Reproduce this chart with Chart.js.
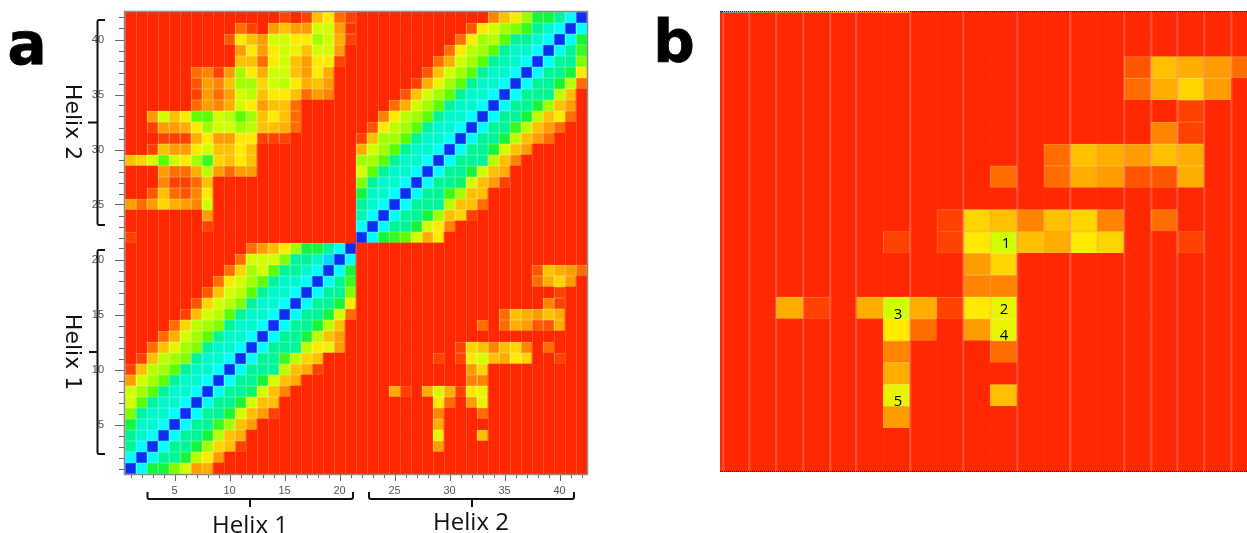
<!DOCTYPE html>
<html>
<head>
<meta charset="utf-8">
<script src="https://cdn.jsdelivr.net/npm/chart.js@4"></script>
<style>
html,body{margin:0;padding:0;background:#fff;width:1247px;height:533px;overflow:hidden}
canvas{display:block}
#wa{position:absolute;left:0;top:0;width:600px;height:533px}
#cb{position:absolute;left:720px;top:11px;width:527px;height:461px;overflow:hidden;background:#ff2800}
#wb{position:absolute;left:-24px;top:-20px;width:562px;height:481px}
#wa canvas,#wb canvas{filter:blur(.6px)}
#wb canvas{background:#ff2800}
#fb{position:absolute;left:720px;top:11px;width:527px;height:461px;border-top:1px dotted #222;border-bottom:1px dotted #222;box-sizing:border-box}
.t{position:absolute;white-space:nowrap;color:#000;line-height:1;transform:translate(-50%,-50%)}
.p{font:bold 58px "DejaVu Sans",sans-serif;-webkit-text-stroke:.8px #000}
.h{font:24px "Open Sans",sans-serif;color:#111}
.v{font:22px "DejaVu Sans",sans-serif;color:#111;transform:translate(-50%,-50%) rotate(90deg)}
.n{font:15px "Open Sans",sans-serif}
svg{position:absolute;left:0;top:0}
</style>
</head>
<body>
<div id="wa"><canvas id="ca" width="600" height="533"></canvas></div>
<div id="cb"><div id="wb"><canvas id="cbc" width="562" height="481"></canvas></div></div>
<div id="fb"></div>
<svg width="600" height="533" fill="none" stroke="#111" stroke-width="2">
<path d="M105 20H99Q97.500 20 97.500 22V223Q97.500 225 99 225H105M97.500 122.500H88"/>
<path d="M105 250H99Q97.500 250 97.500 252V452Q97.500 454 99 454H105M97.500 352H89"/>
<path d="M147.500 492V497Q147.500 499 149 499H351Q353 499 353 497V492M250 499V507"/>
<path d="M369 492V497Q369 499 371 499H572Q574 499 574 497V492M472 499V507"/>
</svg>
<div class="t p" style="left:27px;top:44px">a</div>
<div class="t p" style="left:674px;top:42px">b</div>
<div class="t h" style="left:250px;top:523px">Helix 1</div>
<div class="t h" style="left:471px;top:520px">Helix 2</div>
<div class="t v" style="left:73px;top:122px">Helix 2</div>
<div class="t v" style="left:73px;top:352px">Helix 1</div>
<div class="t n" style="left:1006px;top:242px">1</div>
<div class="t n" style="left:1004px;top:308px">2</div>
<div class="t n" style="left:898px;top:313px">3</div>
<div class="t n" style="left:1004px;top:334px">4</div>
<div class="t n" style="left:898px;top:400px">5</div>
<script>
// Contact level per residue pair: each row is one y residue, entries are x residues 1..42.
// 0 = no contact (red) ... 14 = diagonal (blue).
const r01=[14,12,9,9,7.5,6,3,3.5,0,0,0,0,0,0,0,0,0,0,0,0,0, 0,0,0,0,0,0,0,0,0,0,0,0,0,0,0,0,0,0,0,0,0];
const r02=[12,14,12,10,10,9,6.5,5,3,0,0,0,0,0,0,0,0,0,0,0,0, 0,0,0,0,0,0,0,0,0,0,0,0,0,0,0,0,0,0,0,0,0];
const r03=[10,12,14,12,10,10,9,7,4.5,4,1,0,0,0,0,0,0,0,0,0,0, 0,0,0,0,0,0,0,3,0,0,0,0,0,0,0,0,0,0,0,0,0];
const r04=[10,11,12,14,12,10,10,9,6.5,4,3.5,0,0,0,0,0,0,0,0,0,0, 0,0,0,0,0,0,0,5.5,0,0,0,4,0,0,0,0,0,0,0,0,0];
const r05=[9,11,11,12,14,12,10,10,8.5,7,4,3,0,0,0,0,0,0,0,0,0, 0,0,0,0,0,0,0,3.5,0,0,0,0,0,0,0,0,0,0,0,0,0];
const r06=[7.5,10,11,11,12,14,12,10,10,9,6,4,3,1,0,0,0,0,0,0,0, 0,0,0,0,0,0,0,2.5,0,0,0,2,0,0,0,0,0,0,0,0,0];
const r07=[6,8,10,11,11,12,14,12,10,10,9,6,4,4,0,0,0,0,0,0,0, 0,0,0,0,0,0,0,5,2,0,3,5.5,0,0,0,0,0,0,0,0,0];
const r08=[6,7,8,10,11,11,12,14,12,10,10,9.5,6,4,2.5,0,0,0,0,0,0, 0,0,0,3.5,1,0,3.5,6,3.5,1,5,5.5,0,0,0,0,0,0,0,0,0];
const r09=[3,6,7,8,10,11,11,12,14,12,10,10,9,6,4,3.5,0,0,0,0,0, 0,0,0,0,0,0,0,0,0,0,2.5,2.5,0,0,0,0,0,0,0,0,0];
const r10=[1,4,6.5,7,8,10,11,11,12,14,12,10,10,10,6.5,4,3.5,1,0,0,0, 0,0,0,0,0,0,0,0,0,0,3,4.5,0,0,0,0,0,0,0,0,0];
const r11=[0,1,4,6.5,7,7.5,10,11,11,12,14,12,10,10,8.5,6.5,4.5,4,0,0,0, 0,0,0,0,0,0,0,1,0,1,5,6,4,3.5,5,4.5,0,0,1,0,0];
const r12=[0,0,2,4,5.5,7,7.5,10,11,11,12,14,12,10,10,10,6.5,5,5.5,3,0, 0,0,0,0,0,0,0,0,0,1,4.5,4,2.5,4,4.5,2.5,0,2,0,0,0];
const r13=[0,0,0,2,3.5,6,7,8,10,11,11,12,14,12,10,10,9,6.5,4,3,0, 0,0,0,0,0,0,0,0,0,0,0,0,0,0,0,0,0,0,0,0,0];
const r14=[0,0,0,0,2,4.5,6.5,7,7.5,10,11,11,12,14,12,10,10,9,6.5,4,0, 0,0,0,0,0,0,0,0,0,0,0,2,0,2,3.5,3,1.5,1.5,3.5,0,0];
const r15=[0,0,0,0,0,1,4,6,6.5,8,10,11,11,12,14,12,10,10,9,6,2, 0,0,0,0,0,0,0,0,0,0,0,0,0,2,4,3.5,3,4,3.5,0,0];
const r16=[0,0,0,0,0,0,1.5,4.5,6,6.5,7.5,10,11,11,12,14,12,10,10,9,5, 0,0,0,0,0,0,0,0,0,0,0,0,0,0,0,0,0,2.5,1,0,0];
const r17=[0,0,0,0,0,0,0,1.5,4,6,6.5,8,10,11,11,12,14,12,10,10,7.5, 0,0,0,0,0,0,0,0,0,0,0,0,0,0,0,0,0,0,1,0,0];
const r18=[0,0,0,0,0,0,0,0,2,5,6,7,8,10,11,11,12,14,12,10,8.5, 0,0,0,0,0,0,0,0,0,0,0,0,0,0,0,0,2,3.5,4.5,3,0];
const r19=[0,0,0,0,0,0,0,0,0,2,4.5,7,6,8,10,10,11,12,14,12,9, 0,0,0,0,0,0,0,0,0,0,0,0,0,0,0,0,1.5,4,3.5,3,2];
const r20=[0,0,0,0,0,0,0,0,0,0,2,6,6,6,7.5,10,10,11,13,14,12, 0,0,0,0,0,0,0,0,0,0,0,0,0,0,0,0,0,0,0,0,0];
const r21=[0,0,0,0,0,0,0,0,0,0,0,2,3,4,5,7,9,9,10,12,14, 0,0,0,0,0,0,0,0,0,0,0,0,0,0,0,0,0,0,0,0,0];
const r22=[1,0,0,0,0,0,0,0,0,0,0,0,0,0,0,0,0,0,0,0,0, 14,12,9,8.5,8,6,3.5,5,0,0,0,0,0,0,0,0,0,0,0,0,0];
const r23=[0,0,0,0,0,0,0,1,0,0,0,0,0,0,0,0,0,0,0,0,0, 12,14,12,10,10,9,6,5,2.5,0,0,0,0,0,0,0,0,0,0,0,0];
const r24=[0,0,0,0,0,0,0,3,0,0,0,0,0,0,0,0,0,0,0,0,0, 10.5,12,14,12,10,10,9,7,4,4.5,1,0,0,0,0,0,0,0,0,0,0];
const r25=[3,2,3,4.5,3.5,3,2.5,6,0,0,0,0,0,0,0,0,0,0,0,0,0, 10,11,12,14,12,10,10,10,6.5,4,4,2,0,0,0,0,0,0,0,0,0];
const r26=[0,0,1.5,4,2,1.5,2.5,5,0,0,0,0,0,0,0,0,0,0,0,0,0, 9,11,11,12,14,12,10,10,8.5,7,4,4,0,0,0,0,0,0,0,0,0];
const r27=[0,0,0,2.5,1,1,2,4,0,0,0,0,0,0,0,0,0,0,0,0,0, 7.5,10,11,11,12,14,12,10,10,9.5,6,4,3,1,0,0,0,0,0,0,0];
const r28=[0,0,0,3,2,2,3.5,6.5,3,2,3,3,0,0,0,0,0,0,0,0,0, 6,8,10,11,11,12,14,12,10,10,9,6,4,3.5,0,0,0,0,0,0,0];
const r29=[4,4.5,6,8,6,5,7,8.5,4.5,4,5,4,0,0,0,0,0,0,0,0,0, 7,7,8,10,11,11,12,14,12,10,10,10,6.5,4,2.5,0,0,0,0,0,0];
const r30=[0,0,1,4,3,3,5,6,4,4,5,4,0,0,0,0,0,0,0,0,0, 3.5,6,7,8,10,11,11,12,14,12,10,10,9,6,4,3,0,0,0,0,0];
const r31=[0,0,0,1,1,1,3.5,5,3,3,5,5,1,1,1,0,0,0,0,0,0, 1,4,7,7,8,10,11,11,12,14,12,10,10,9,6.5,4,3,2,0,0,0];
const r32=[0,0,1,3,3,3.5,5,7,6,6,7,6.5,4,4,3.5,2,0,0,0,0,0, 0,1.5,5,6.5,7,8,10,11,11,12,14,12,10,10,8.5,6.5,4,3,2,0,0];
const r33=[0,0,3,6,4,5,8,8,6,6.5,8,7,4,5,4,2,0,0,0,0,0, 0,0,2.5,5,6.5,7,8,10,11,11,12,14,12,10,10,9,6.5,4,5,2,0];
const r34=[0,0,0,0,0,0,2,3,2.5,3.5,6,5,3,4,4,2,0,0,0,0,0, 0,0,0,2,3.5,6,7,8,10,11,11,12,14,12,10,10,9,7,4,3,0];
const r35=[0,0,0,0,0,0,1,3,2,3,6,6.5,4,5,5,4,2,3,2.5,0,0, 0,0,0,0,1.5,4,6,7,8,10,11,11,12,14,12,10,10,10,6.5,4,0];
const r36=[0,0,0,0,0,0,1.5,3,2.5,4,7,7,4.5,6,6.5,5,3.5,4,3,0,0, 0,0,0,0,0,1,3.5,5.5,7,8,10,11,11,12,14,12,10,10,9,6.5,2];
const r37=[0,0,0,0,0,0,2,2.5,1,3,7,5,3.5,6,6,4,3,5,3.5,0,0, 0,0,0,0,0,0,1.5,4,6,7,8,10,11,11,12,14,12,10,10,9,5];
const r38=[0,0,0,0,0,0,0,0,0,0,4,4,2,5,6,4,3,5,5,1,0, 0,0,0,0,0,0,0,2,3.5,6,7,8,10,10.5,11,12,14,12,10,10,7.5];
const r39=[0,0,0,0,0,0,0,0,0,0,3,5,3,5,6,5.5,4,6,6,3,0, 0,0,0,0,0,0,0,0,2,5,6.5,7,8,10,11,11,12,14,12,10,8.5];
const r40=[0,0,0,0,0,0,0,0,0,1.5,5,4,3,6,6,5,5,7,6,3.5,1, 0,0,0,0,0,0,0,0,0,2,5,7,6.5,8,10,10,11,12,14,12,9];
const r41=[0,0,0,0,0,0,0,0,0,0,2,1,0,3,4,3,3,6,6,3,0.5, 0,0,0,0,0,0,0,0,0,0,1.5,5,6,7,7.5,8.5,10,11,12,14,12];
const r42=[0,0,0,0,0,0,0,0,0,0,0,0,0,0,1,0,1,4,5,2,1, 0,0,0,0,0,0,0,0,0,0,0,0,2.5,4,5,7,9,9,10,12,14];

const contactRows=[r01,r02,r03,r04,r05,r06,r07,r08,r09,r10,r11,r12,r13,r14,r15,r16,r17,r18,r19,r20,r21,
                   r22,r23,r24,r25,r26,r27,r28,r29,r30,r31,r32,r33,r34,r35,r36,r37,r38,r39,r40,r41,r42];
const residues=contactRows.map((_,i)=>i+1);
const tickLabels=[5,10,15,20,25,30,35,40];
const panelBFirstResidue=22;
const panelBRows=22;
const panelBStripes=[23,24,25,26,27,28,30,32,34,36,38,39,40,41,42];
const levelColors=['#ff2800','#ff4200','#ff6c00','#ff9c00','#ffc000','#ffea00','#d2ff00','#a2ff00','#5cff00','#14f53c','#00f598','#00f8cc','#00ffff','#00d8ff','#0a2ef2'];

function levelRGB(v){
  const a=Math.floor(v),b=Math.min(a+1,levelColors.length-1),f=v-a;
  const p=s=>[1,3,5].map(i=>parseInt(s.substr(i,2),16));
  const A=p(levelColors[a]),B=p(levelColors[b]);
  return A.map((c,i)=>Math.round(c+(B[i]-c)*f));
}
const levelColor=v=>'rgb('+levelRGB(v).join(',')+')';
const edgeColor=v=>'rgb('+levelRGB(v).map(c=>Math.round(c+(255-c)*.2)).join(',')+')';
function heatDatasets(rows,labels,offset){
  return rows.map((row,ri)=>{
    const vals=row.slice(offset);
    return {
      data:labels.map(()=>[ri+0.5,ri+1.5]),
      backgroundColor:vals.map(levelColor),
      borderColor:vals.map(edgeColor),
      borderWidth:vals.map(v=>v>0?1:0),
      borderSkipped:false,
      grouped:false,
      barPercentage:1,
      categoryPercentage:1
    };
  });
}
const axisTicks={
  id:'axisTicks',
  afterDraw(c){
    const g=c.ctx,a=c.chartArea,x=c.scales.x,y=c.scales.y;
    g.save();
    g.strokeStyle='#666';g.lineWidth=1;g.beginPath();
    residues.forEach((r,i)=>{
      const big=r%5===0;
      const px=Math.round(x.getPixelForValue(i))+.5,py=Math.round(y.getPixelForValue(r))+.5;
      g.moveTo(px,a.bottom);g.lineTo(px,a.bottom+(big?7:4));
      g.moveTo(a.left,py);g.lineTo(a.left-(big?10:6),py);
    });
    g.stroke();
    g.strokeStyle='#8a8a8a';g.lineWidth=1.5;
    g.strokeRect(a.left-.5,a.top-.5,a.right-a.left+1,a.bottom-a.top+1);
    g.restore();
  }
};
const labelsA=residues.map(String);
new Chart(document.getElementById('ca'),{
  type:'bar',
  data:{labels:labelsA,datasets:heatDatasets(contactRows,labelsA,0)},
  plugins:[axisTicks],
  options:{
    responsive:false,animation:false,
    layout:{padding:{left:0,top:12,right:13,bottom:0}},
    plugins:{legend:{display:false},tooltip:{enabled:false},title:{display:false}},
    scales:{
      x:{
        type:'category',offset:true,
        grid:{offset:true,drawTicks:false,z:1,color:'rgba(255,255,255,.17)',lineWidth:1},
        border:{display:false},
        afterFit(s){s.height=59;s.paddingLeft=0;s.paddingRight=0;},
        ticks:{autoSkip:false,maxRotation:0,padding:10,color:'#555',font:{family:'"Liberation Sans",Arial,sans-serif',size:11},
          callback(v){const l=this.getLabelForValue(v);return tickLabels.includes(+l)?l:'';}}
      },
      y:{
        type:'linear',min:.5,max:42.5,
        grid:{display:false},border:{display:false},
        afterFit(s){s.width=125;s.paddingTop=0;s.paddingBottom=0;},
        afterBuildTicks(s){s.ticks=tickLabels.map(v=>({value:v}));},
        ticks:{padding:13,color:'#555',font:{family:'"Liberation Sans",Arial,sans-serif',size:11},callback:v=>String(v)}
      }
    }
  }
});
const labelsB=residues.slice(panelBFirstResidue-1).map(String);
new Chart(document.getElementById('cbc'),{
  type:'bar',
  data:{labels:labelsB,datasets:heatDatasets(contactRows.slice(0,panelBRows),labelsB,panelBFirstResidue-1)},
  options:{
    responsive:false,animation:false,
    layout:{padding:0},
    plugins:{legend:{display:false},tooltip:{enabled:false},title:{display:false}},
    scales:{
      x:{
        type:'category',offset:true,
        grid:{offset:true,drawTicks:false,z:1,lineWidth:2.5,
          color:c=>panelBStripes.includes(panelBFirstResidue+c.index)?'rgba(255,130,120,.42)':'rgba(255,80,60,.1)'},
        border:{display:false},
        afterFit(s){s.height=0;s.paddingLeft=0;s.paddingRight=0;},
        ticks:{display:false}
      },
      y:{
        type:'linear',min:.5,max:panelBRows+.5,
        grid:{display:false},border:{display:false},
        afterFit(s){s.width=0;s.paddingTop=0;s.paddingBottom=0;},
        ticks:{display:false}
      }
    }
  }
});
</script>
</body>
</html>
